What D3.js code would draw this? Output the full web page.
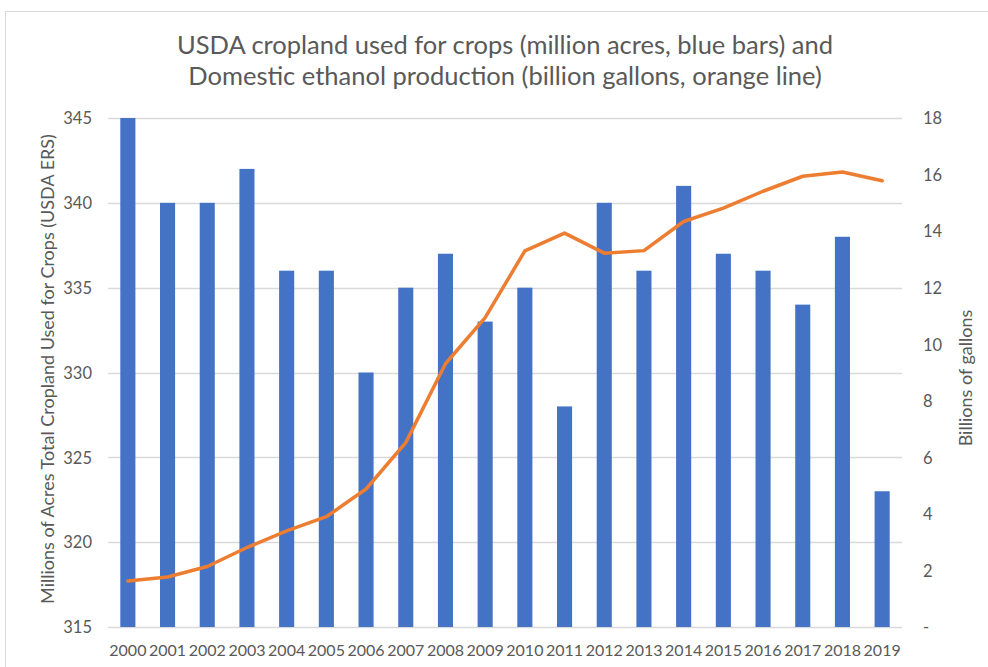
<!DOCTYPE html>
<html>
<head>
<meta charset="utf-8">
<script src="https://cdn.jsdelivr.net/npm/d3@7"></script>
<style>
  body { margin: 0; background: #fff; }
  svg text { font-family: Lato, "Open Sans", sans-serif; fill: #595959; }
</style>
</head>
<body>
<div id="chart"></div>
<script>
const years = ["2000","2001","2002","2003","2004","2005","2006","2007","2008","2009",
               "2010","2011","2012","2013","2014","2015","2016","2017","2018","2019"];
const cropland = [345, 340, 340, 342, 336, 336, 330, 335, 337, 333,
                  335, 328, 340, 336, 341, 337, 336, 334, 338, 323];
const ethanol = [1.63, 1.77, 2.14, 2.81, 3.40, 3.90, 4.88, 6.52, 9.31, 10.94,
                 13.30, 13.93, 13.22, 13.31, 14.34, 14.81, 15.41, 15.94, 16.09, 15.78];
const leftTicks = [315, 320, 325, 330, 335, 340, 345];
const rightTicks = [0, 2, 4, 6, 8, 10, 12, 14, 16, 18];

const width = 988, height = 667;
const plot = {left: 108, right: 902, top: 118, bottom: 627};

let svg = d3.select("#chart").append("svg")
    .attr("width", width)
    .attr("height", height);

// outer chart border
svg.append("rect")
    .attr("x", 5.5).attr("y", 11.5)
    .attr("width", 1000).attr("height", 700)
    .attr("fill", "none")
    .attr("stroke", "#d9d9d9");

let x = d3.scaleBand().domain(years).range([plot.left, plot.right]).paddingInner(0.62).paddingOuter(0.31);
let yL = d3.scaleLinear().domain([315, 345]).range([plot.bottom, plot.top]);
let yR = d3.scaleLinear().domain([0, 18]).range([plot.bottom, plot.top]);

// gridlines
svg.append("g").selectAll("line").data(leftTicks).join("line")
    .attr("x1", plot.left).attr("x2", plot.right)
    .attr("y1", d => Math.round(yL(d)) + 0.5).attr("y2", d => Math.round(yL(d)) + 0.5)
    .attr("stroke", "#d9d9d9").attr("stroke-width", 1.3);

// bars
svg.append("g").selectAll("rect").data(cropland).join("rect")
    .attr("x", (d, i) => x(years[i]))
    .attr("y", d => yL(d))
    .attr("width", x.bandwidth())
    .attr("height", d => yL(315) - yL(d))
    .attr("fill", "#4472c4");

// ethanol line
let line = d3.line()
    .x((d, i) => x(years[i]) + x.bandwidth() / 2)
    .y(d => yR(d));
svg.append("path")
    .datum(ethanol)
    .attr("d", line)
    .attr("fill", "none")
    .attr("stroke", "#ed7d31")
    .attr("stroke-width", 3.5)
    .attr("stroke-linecap", "round")
    .attr("stroke-linejoin", "round");

// left axis
let leftAxis = svg.append("g")
    .attr("transform", `translate(${plot.left - 16},0)`)
    .call(d3.axisLeft(yL).tickValues(leftTicks).tickSize(0).tickPadding(0));
leftAxis.select(".domain").remove();
leftAxis.selectAll("text").attr("font-size", 16.5).attr("dy", "0.35em");

// right axis
let rightAxis = svg.append("g")
    .attr("transform", `translate(${plot.right + 21},0)`)
    .call(d3.axisRight(yR).tickValues(rightTicks).tickSize(0).tickPadding(0)
        .tickFormat(d => d === 0 ? "-" : d));
rightAxis.select(".domain").remove();
rightAxis.selectAll("text").attr("font-size", 16.5).attr("dy", "0.35em");

// bottom axis
let bottomAxis = svg.append("g")
    .attr("transform", `translate(0,${plot.bottom + 18})`)
    .call(d3.axisBottom(x).tickSize(0).tickPadding(0));
bottomAxis.select(".domain").remove();
bottomAxis.selectAll("text").attr("font-size", 16).attr("dy", "0.71em");

// title
let title = svg.append("text")
    .attr("text-anchor", "middle")
    .attr("font-size", 25.5);
title.append("tspan").attr("x", 505).attr("y", 54)
    .text("USDA cropland used for crops (million acres, blue bars) and");
title.append("tspan").attr("x", 505).attr("y", 85)
    .text("Domestic ethanol production (billion gallons, orange line)");

// axis titles
svg.append("text")
    .attr("transform", "translate(54,369) rotate(-90)")
    .attr("text-anchor", "middle")
    .attr("font-size", 18)
    .text("Millions of Acres Total Cropland Used for Crops (USDA ERS)");
svg.append("text")
    .attr("transform", "translate(972,378) rotate(-90)")
    .attr("text-anchor", "middle")
    .attr("font-size", 18)
    .text("Billions of gallons");
</script>
</body>
</html>
